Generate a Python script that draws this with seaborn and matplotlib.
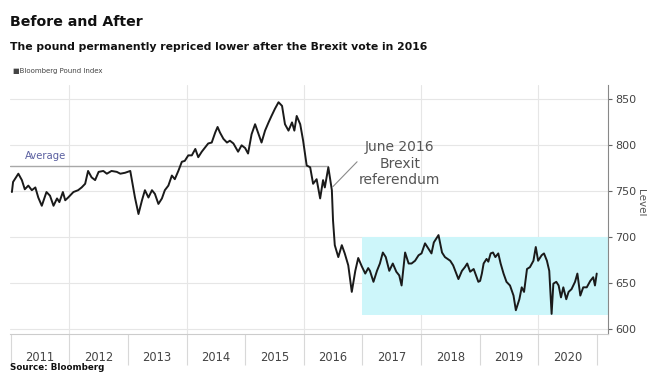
import matplotlib
matplotlib.use("Agg")
import matplotlib.pyplot as plt
import seaborn as sns
import pandas as pd

# ---------------- data ----------------
years = [
    2011.02, 2011.04, 2011.13, 2011.19, 2011.24, 2011.30, 2011.36, 2011.42, 2011.47, 2011.53,
    2011.61, 2011.67, 2011.73, 2011.79, 2011.83, 2011.89, 2011.93, 2011.98, 2012.07, 2012.15,
    2012.21, 2012.27, 2012.32, 2012.38, 2012.44, 2012.50, 2012.58, 2012.64, 2012.72, 2012.81,
    2012.87, 2012.95, 2013.04, 2013.09, 2013.12, 2013.18, 2013.24, 2013.29, 2013.35, 2013.41,
    2013.46, 2013.52, 2013.58, 2013.63, 2013.69, 2013.75, 2013.80, 2013.86, 2013.92, 2013.97,
    2014.03, 2014.09, 2014.15, 2014.20, 2014.26, 2014.32, 2014.37, 2014.43, 2014.49, 2014.53,
    2014.57, 2014.63, 2014.69, 2014.74, 2014.80, 2014.88, 2014.94, 2015.00, 2015.05, 2015.11,
    2015.17, 2015.23, 2015.28, 2015.34, 2015.40, 2015.45, 2015.51, 2015.57, 2015.63, 2015.68,
    2015.74, 2015.80, 2015.84, 2015.88, 2015.94, 2015.99, 2016.05, 2016.11, 2016.16, 2016.22,
    2016.28, 2016.33, 2016.36, 2016.42, 2016.48, 2016.50, 2016.53, 2016.59, 2016.65, 2016.70,
    2016.76, 2016.82, 2016.88, 2016.93, 2016.99, 2017.05, 2017.10, 2017.13, 2017.19, 2017.25,
    2017.30, 2017.35, 2017.40, 2017.46, 2017.52, 2017.58, 2017.63, 2017.67, 2017.73, 2017.79,
    2017.84, 2017.90, 2017.96, 2018.01, 2018.07, 2018.13, 2018.18, 2018.22, 2018.30, 2018.36,
    2018.41, 2018.50, 2018.55, 2018.64, 2018.70, 2018.75, 2018.79, 2018.84, 2018.90, 2018.98,
    2019.01, 2019.04, 2019.07, 2019.12, 2019.15, 2019.19, 2019.23, 2019.27, 2019.32, 2019.36,
    2019.41, 2019.46, 2019.52, 2019.58, 2019.62, 2019.68, 2019.72, 2019.76, 2019.81, 2019.86,
    2019.92, 2019.96, 2020.00, 2020.06, 2020.10, 2020.15, 2020.19, 2020.23, 2020.26, 2020.31,
    2020.35, 2020.39, 2020.43, 2020.48, 2020.52, 2020.57, 2020.63, 2020.67, 2020.72, 2020.77,
    2020.83, 2020.89, 2020.94, 2020.97, 2021.00,
]
pound_index = [
    749, 760, 769, 762, 752, 756, 751, 754, 743, 734,
    749, 745, 734, 742, 738, 749, 740, 743, 749, 751,
    754, 758, 772, 765, 762, 771, 772, 769, 772, 771,
    769, 770, 772, 754, 743, 725, 740, 751, 743, 751,
    747, 736, 742, 751, 756, 767, 763, 772, 782, 783,
    789, 789, 796, 787, 793, 798, 802, 803, 814, 820,
    814, 807, 803, 805, 802, 793, 800, 797, 791, 812,
    823, 812, 803, 816, 825, 832, 840, 847, 843, 823,
    816, 825, 816, 832, 823, 805, 778, 776, 758, 763,
    742, 762, 754, 776, 751, 718, 691, 678, 691, 682,
    669, 640, 663, 677, 668, 660, 666, 663, 651, 663,
    671, 683, 678, 663, 671, 662, 658, 647, 683, 671,
    671, 674, 680, 682, 693, 687, 682, 694, 702, 683,
    678, 674, 669, 654, 663, 667, 671, 662, 665, 651,
    652, 660, 671, 676, 673, 682, 683, 678, 682, 671,
    660, 651, 647, 636, 620, 632, 645, 640, 665, 667,
    674, 689, 674, 680, 682, 674, 663, 616, 649, 651,
    647, 634, 645, 632, 640, 643, 651, 660, 636, 645,
    645, 652, 656, 647, 660,
]
year_labels = ["2011", "2012", "2013", "2014", "2015", "2016", "2017", "2018", "2019", "2020"]
y_ticks = [600, 650, 700, 750, 800, 850]
average_level = 777
average_end = 2016.42
band_start = 2017.0
band_low = 615
band_high = 700

title = "Before and After"
subtitle = "The pound permanently repriced lower after the Brexit vote in 2016"
series_name = "Bloomberg Pound Index"
annotation = "June 2016\nBrexit\nreferendum"
source = "Source: Bloomberg"

df = pd.DataFrame({"year": years, "level": pound_index})

# ---------------- figure ----------------
sns.set_style("white")
plt.rcParams["font.family"] = ["DejaVu Sans"]

W, H = 647, 372
fig = plt.figure(figsize=(W / 100, H / 100), dpi=100)
ax = fig.add_axes([0.0155, 0.102, 0.924, 0.670])

x_left, x_right = 2010.988, 2021.19
ax.set_xlim(x_left, x_right)
ax.set_ylim(594, 866)

# grid
for v in y_ticks:
    ax.axhline(v, color="#e6e6e6", lw=0.8, zorder=0)
for yr in range(2012, 2021, 2):
    ax.axvline(yr, color="#e6e6e6", lw=0.8, zorder=0)

# band
ax.fill_between([band_start, x_right], band_low, band_high, color="#cdf6fa", lw=0, zorder=1)

# average line
ax.plot([x_left, average_end], [average_level, average_level], color="#a8a8a8", lw=1.0, zorder=2)
ax.text(2011.25, average_level + 6, "Average", color="#5a5fa0", fontsize=7.3, va="bottom", ha="left")

# series
sns.lineplot(data=df, x="year", y="level", ax=ax, color="#1a1a1a", lw=1.4, zorder=3)

# annotation
ax.plot([2016.50, 2016.91], [755, 782], color="#8a8a8a", lw=0.8, zorder=2)
ax.text(2017.64, 780, annotation, ha="center", va="center", fontsize=10, color="#555555",
        linespacing=1.22)

# axes styling
for s in ["left", "top"]:
    ax.spines[s].set_visible(False)
ax.spines["right"].set_color("#888888")
ax.spines["right"].set_linewidth(0.8)
ax.spines["bottom"].set_color("#cccccc")
ax.spines["bottom"].set_linewidth(0.8)

ax.yaxis.tick_right()
ax.set_yticks(y_ticks)
ax.set_yticklabels([str(v) for v in y_ticks])
ax.tick_params(axis="y", which="major", right=True, left=False, direction="out", length=3,
               width=0.8, color="#666666", labelsize=8, labelcolor="#444444", pad=2)
ax.set_ylabel("")
fig.text(641 / W, 1 - 203 / H, "Level", rotation=270, fontsize=7.5, color="#555555",
         ha="center", va="center")

ax.set_xticks([int(l) + 0.5 for l in year_labels])
ax.set_xticklabels(year_labels)
ax.set_xticks(list(range(2011, 2022)), minor=True)
ax.tick_params(axis="x", which="major", bottom=True, length=0, labelsize=8.3,
               labelcolor="#444444", pad=12)
ax.tick_params(axis="x", which="minor", bottom=True, length=22, width=0.8, color="#d8d8d8",
               direction="out")
ax.set_xlabel("")

# titles (sized to the reference's text widths)
renderer = fig.canvas.get_renderer()


def fit_text(x, y, s, width_px, size, **kw):
    t = fig.text(x, y, s, fontsize=size, **kw)
    w = t.get_window_extent(renderer=renderer).width
    t.set_fontsize(size * width_px / w)
    return t


title_fonts = ["Liberation Sans Narrow", "DejaVu Sans"]
fit_text(10 / W, 1 - 22 / H, title, 133, 12, fontweight="bold", color="#111111",
         va="center", ha="left", family=title_fonts)
fit_text(10 / W, 1 - 47 / H, subtitle, 416, 8.5, fontweight="bold", color="#111111",
         va="center", ha="left", family=title_fonts)
fig.text(13 / W, 1 - 71 / H, "\u25A0" + series_name, fontsize=5, color="#444444",
         va="center", ha="left")
fig.text(10 / W, 1 - 371.5 / H, source, fontsize=6.3, fontweight="bold", color="#111111",
         va="bottom", ha="left")

fig.savefig("out.png", dpi=100)
